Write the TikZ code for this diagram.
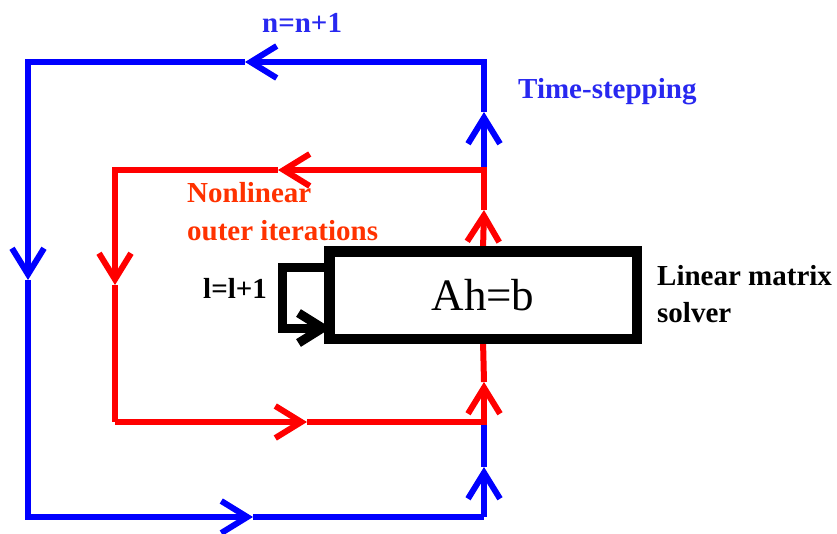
\documentclass[tikz,border=0pt]{standalone}
\usepackage{fontspec}
\setmainfont{Liberation Serif}
\usetikzlibrary{arrows.meta}
\definecolor{lineblue}{RGB}{0,0,255}
\definecolor{textblue}{RGB}{40,40,240}
\definecolor{linered}{RGB}{255,0,0}
\definecolor{textred}{RGB}{255,50,0}
\begin{document}
\begin{tikzpicture}[x=1pt,y=-1pt,
  barb/.style={-{Straight Barb[length=26pt,width=32pt]}},
  blueline/.style={draw=lineblue,line width=6pt,line join=miter},
  redline/.style={draw=linered,line width=6pt,line join=miter},
  blackline/.style={draw=black,line width=9pt,line join=miter},
  lbl/.style={font=\fontsize{29}{35}\selectfont\bfseries,inner sep=0pt,anchor=base west},
  boxborder/.style={draw=black,line width=7pt},
  solverbox/.style={boxborder,fill=white,minimum width=304pt,minimum height=84pt,inner sep=0pt,font=\fontsize{45}{50}\selectfont}]
\useasboundingbox (0,0) rectangle (837,533);
% corner and arrow-tip coordinates
\coordinate (bTR) at (484,62);
\coordinate (bTL) at (28,62);
\coordinate (bBL) at (28,517);
\coordinate (bBR) at (484,517);
\coordinate (bTop) at (245,62);
\coordinate (bLeft) at (28,280);
\coordinate (bBot) at (253,517);
\coordinate (bRlow) at (484,467);
\coordinate (bRlowEnd) at (484,420);
\coordinate (bRupStart) at (484,170);
\coordinate (bRup) at (484,112);
\coordinate (rTR) at (484,170);
\coordinate (rTL) at (115,170);
\coordinate (rBL) at (115,422);
\coordinate (rBR) at (484,422);
\coordinate (rTop) at (278,170);
\coordinate (rLeft) at (115,285);
\coordinate (rBot) at (307,422);
\coordinate (rRlow) at (484,382);
\coordinate (rRup) at (484,210);
% blue time-stepping loop
\draw[blueline,barb] (bBR) -- (bRlow);
\draw[blueline] (bRlow) -- (bRlowEnd);
\draw[blueline,barb] (bRupStart) -- (bRup);
\draw[blueline,barb] (bRup) -- (bTR) -- (bTop);
\draw[blueline,barb] (bTop) -- (bTL) -- (bLeft);
\draw[blueline,barb] (bLeft) -- (bBL) -- (bBot);
\draw[blueline] (bBot) -- (bBR);
% solver box
\node[solverbox] (box) at (483,295) {Ah=b};
% red nonlinear loop
\draw[redline,barb] (rBL) -- (rBot);
\draw[redline,barb] (rBot) -- (rBR) -- (rRlow);
\draw[redline] (rRlow) -- (box.south);
\draw[redline,barb] (box.north) -- (rRup);
\draw[redline,barb] (rRup) -- (rTR) -- (rTop);
\draw[redline,barb] (rTop) -- (rTL) -- (rLeft);
\draw[redline] (rLeft) -- (rBL);
\draw[boxborder] (box.south west) rectangle (box.north east);
% black inner loop
\coordinate (kTL) at (282,267);
\coordinate (kBL) at (282,328);
\coordinate (kEnd) at (331,328);
\draw[blackline,-{Straight Barb[length=24pt,width=30pt]}] (box.west |- kTL) -- (kTL) -- (kBL) -- (kEnd);
% labels
\node[lbl,text=textblue] (nlab) at (262,32) {n=n+1};
\node[lbl,text=textblue] (tslab) at (518,98) {Time-stepping};
\node[lbl,text=textred] (nl1) at (187,202) {Nonlinear};
\node[lbl,text=textred] (nl2) at (187,240) {outer iterations};
\node[lbl,text=black] (llab) at (203,298) {l=l+1};
\node[lbl,text=black] (lm1) at (657,285) {Linear matrix};
\node[lbl,text=black] (lm2) at (657,322) {solver};
\end{tikzpicture}
\end{document}
